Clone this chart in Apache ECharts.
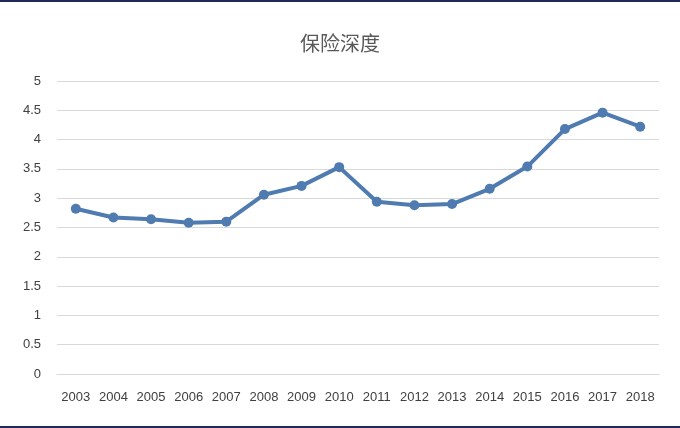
<!DOCTYPE html>
<html><head><meta charset="utf-8">
<script src="https://cdn.jsdelivr.net/npm/echarts@6/dist/echarts.min.js"></script>
<style>html,body{margin:0;padding:0;background:#fff}#c{width:680px;height:428px;box-sizing:border-box;border-top:2px solid #1f2a5a;border-bottom:2px solid #1f2a5a}</style>
</head><body><div id="c"></div>
<script>
const years=['2003','2004','2005','2006','2007','2008','2009','2010','2011','2012','2013','2014','2015','2016','2017','2018'];
const depth=[2.82,2.67,2.64,2.58,2.60,3.06,3.21,3.53,2.94,2.88,2.90,3.16,3.54,4.18,4.46,4.22];
const c=echarts.init(document.getElementById('c'));
c.setOption({
 title:{text:'保险深度',left:'center',top:26,textStyle:{fontFamily:'Noto Sans CJK SC',fontSize:20,fontWeight:'normal',color:'#595959'}},
 grid:{left:57,right:21,top:79,bottom:52},
 xAxis:{type:'category',data:years,boundaryGap:true,axisTick:{show:false},axisLine:{lineStyle:{color:'#d9d9d9'}},axisLabel:{color:'#404040',fontSize:13,interval:0,margin:17}},
 yAxis:{type:'value',min:0,max:5,interval:0.5,axisLine:{show:false},axisTick:{show:false},splitLine:{lineStyle:{color:'#d9d9d9'}},axisLabel:{color:'#404040',fontSize:13,margin:16}},
 series:[{type:'line',data:depth,symbol:'circle',symbolSize:10,lineStyle:{width:4,color:'#4f7bb1'},itemStyle:{color:'#4f7bb1'}}]
});
</script></body></html>
